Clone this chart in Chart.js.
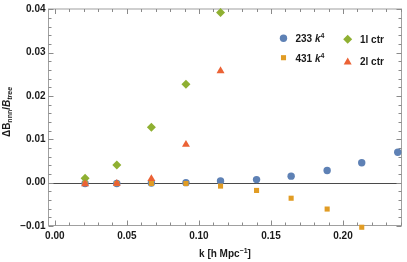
<!DOCTYPE html>
<html><head><meta charset="utf-8">
<script src="https://cdn.jsdelivr.net/npm/chart.js@4/dist/chart.umd.min.js"></script>
<style>html,body{margin:0;padding:0;background:#fff;overflow:hidden}#wrap{width:407px;height:262px;position:relative}</style>
</head><body><div id="wrap"><canvas id="c" width="407" height="262"></canvas></div>
<script>
// ---- data ----
const kValues   = [0.021, 0.043, 0.067, 0.091, 0.115, 0.140, 0.164, 0.189, 0.213, 0.238];
const c233      = [-0.0002, -0.0002, -0.0001, 0.0000, 0.0004, 0.0007, 0.0015, 0.0028, 0.0046, 0.0070];
const c431      = [-0.0002, -0.0002, -0.0002, -0.0002, -0.0008, -0.0018, -0.0036, -0.0061, -0.0103];
const ctr1      = [0.0010, 0.0041, 0.0128, 0.0227, 0.0393];
const ctr2      = [-0.0003, -0.0002, 0.0009, 0.0088, 0.0258];
const xTickVals = [0.00, 0.05, 0.10, 0.15, 0.20];
const yTickVals = [-0.01, 0.00, 0.01, 0.02, 0.03, 0.04];
const seriesNames = ['233', '431', '1l ctr', '2l ctr'];

const COLORS = {blue:'#5e81b5', orange:'#e19c24', green:'#8fb032', red:'#eb6235'};
const FONT = '"Liberation Sans", Arial, sans-serif';
const TXT = '#1a1a1a';

function pts(vals){ return vals.map((v,i)=>({x:kValues[i], y:v})); }

function drawMarker(ctx, style, x, y, r, color){
  ctx.save(); ctx.fillStyle = color; ctx.beginPath();
  if(style==='circle'){ ctx.arc(x,y,r,0,Math.PI*2); }
  else if(style==='rect'){ const s=Math.SQRT1_2*r; ctx.rect(x-s,y-s,2*s,2*s); }
  else if(style==='rectRot'){ ctx.moveTo(x,y-r); ctx.lineTo(x+r,y); ctx.lineTo(x,y+r); ctx.lineTo(x-r,y); ctx.closePath(); }
  else if(style==='triangle'){ ctx.moveTo(x, y-r); ctx.lineTo(x+r*0.866, y+r*0.5); ctx.lineTo(x-r*0.866, y+r*0.5); ctx.closePath(); }
  ctx.fill(); ctx.restore();
}

function drawRich(ctx, parts, x, y){
  let cx = x;
  for(const p of parts){
    ctx.font = p.font; ctx.fillText(p.t, cx, y + (p.dy||0));
    cx += ctx.measureText(p.t).width;
  }
}
function richWidth(ctx, parts){
  let w=0; for(const p of parts){ ctx.font=p.font; w+=ctx.measureText(p.t).width; } return w;
}

const framePlugin = {
  id:'frame',
  beforeDatasetsDraw(chart){
    const {ctx, chartArea:a, scales:{x,y}} = chart;
    ctx.save();
    ctx.lineWidth = 1;
    const y0 = Math.round(y.getPixelForValue(0)) + 0.5;
    ctx.strokeStyle = '#4a4a4a';
    ctx.beginPath(); ctx.moveTo(a.left, y0); ctx.lineTo(a.right, y0); ctx.stroke();
    ctx.strokeStyle = '#a0a0a0';
    ctx.strokeRect(a.left, a.top, a.right-a.left, a.bottom-a.top);
    ctx.strokeStyle = '#8a8a8a';
    ctx.beginPath();
    for(let i=0;i<=24;i++){
      const v=i/100, len = (i%5===0)?5:3;
      const px = Math.round(x.getPixelForValue(v))+0.5;
      if(px<a.left||px>a.right) continue;
      ctx.moveTo(px,a.bottom); ctx.lineTo(px,a.bottom-len);
      ctx.moveTo(px,a.top); ctx.lineTo(px,a.top+len);
    }
    for(let i=-5;i<=20;i++){
      const v=i*0.002, len=(i%5===0)?5:3;
      const py = Math.round(y.getPixelForValue(v))+0.5;
      if(py<a.top-1||py>a.bottom+1) continue;
      ctx.moveTo(a.left,py); ctx.lineTo(a.left+len,py);
      ctx.moveTo(a.right,py); ctx.lineTo(a.right-len,py);
    }
    ctx.stroke();
    ctx.restore();
  },
  afterDraw(chart){
    const ctx = chart.ctx;
    const a = chart.chartArea;
    ctx.save();
    ctx.fillStyle = TXT; ctx.textBaseline='alphabetic'; ctx.textAlign='left';
    // y-axis title
    const yParts = [
      {t:'\u0394B', font:'bold 10px '+FONT},
      {t:'nnn', font:'bold 7px '+FONT, dy:2.5},
      {t:'/', font:'bold 10px '+FONT},
      {t:'B', font:'italic bold 10px '+FONT},
      {t:'tree', font:'italic bold 7px '+FONT, dy:2.5}
    ];
    ctx.translate(9.5, 112); ctx.rotate(-Math.PI/2);
    const w = richWidth(ctx, yParts);
    drawRich(ctx, yParts, -w/2, 0);
    ctx.setTransform(1,0,0,1,0,0);
    // x-axis title
    const xParts = [
      {t:'k [h Mpc', font:'bold 10px '+FONT},
      {t:'\u22121', font:'bold 7px '+FONT, dy:-4},
      {t:']', font:'bold 10px '+FONT}
    ];
    const xw = richWidth(ctx, xParts);
    drawRich(ctx, xParts, (a.left+a.right)/2 - xw/2, 257);
    // legend
    const leg = [
      {style:'circle', r:3.7, color:COLORS.blue, mx:283.5, my:38.3, tx:295.5, ty:41.8,
        parts:[{t:seriesNames[0]+' ', font:'bold 10px '+FONT},{t:'k', font:'italic bold 10px '+FONT},{t:'4', font:'bold 7px '+FONT, dy:-4}]},
      {style:'rect', r:3.6, color:COLORS.orange, mx:283.5, my:57.7, tx:295.5, ty:61.5,
        parts:[{t:seriesNames[1]+' ', font:'bold 10px '+FONT},{t:'k', font:'italic bold 10px '+FONT},{t:'4', font:'bold 7px '+FONT, dy:-4}]},
      {style:'rectRot', r:4.5, color:COLORS.green, mx:347.7, my:39.3, tx:360, ty:42.8,
        parts:[{t:seriesNames[2], font:'bold 10px '+FONT}]},
      {style:'triangle', r:4.6, color:COLORS.red, mx:347.7, my:62.2, tx:360, ty:64.8,
        parts:[{t:seriesNames[3], font:'bold 10px '+FONT}]}
    ];
    for(const l of leg){
      drawMarker(ctx, l.style, l.mx, l.my, l.r, l.color);
      ctx.fillStyle = TXT;
      drawRich(ctx, l.parts, l.tx, l.ty);
    }
    ctx.restore();
  }
};

const ds = (label, data, style, r, color, order) => ({
  label, data, pointStyle:style, pointRadius:r, pointHoverRadius:r,
  backgroundColor:color, borderColor:color, pointBorderWidth:0, borderWidth:0,
  showLine:false, clip:false, order
});

new Chart(document.getElementById('c'), {
  type:'scatter',
  data:{ datasets:[
    ds('233 k4', pts(c233), 'circle', 3.7, COLORS.blue, 3),
    ds('431 k4', pts(c431), 'rect', 3.6, COLORS.orange, 2),
    ds('1l ctr', pts(ctr1), 'rectRot', 4.5, COLORS.green, 1),
    ds('2l ctr', pts(ctr2), 'triangle', 4.6, COLORS.red, 0)
  ]},
  options:{
    responsive:false, animation:false, devicePixelRatio:1,
    layout:{ padding:{top:4.5, right:5.5, left:0, bottom:0} },
    plugins:{ legend:{display:false}, tooltip:{enabled:false} },
    events:[],
    scales:{
      x:{
        type:'linear', min:-0.0044, max:0.2406,
        grid:{display:false, drawTicks:false}, border:{display:false},
        afterBuildTicks:(s)=>{ s.ticks = xTickVals.map(v=>({value:v})); },
        afterFit:(s)=>{ s.height = 36.5; },
        ticks:{ padding:5, color:TXT, font:{family:FONT, size:10, weight:'bold'},
          maxRotation:0, autoSkip:false, callback:(v)=>Number(v).toFixed(2) }
      },
      y:{
        type:'linear', min:-0.0099, max:0.0401,
        grid:{display:false, drawTicks:false}, border:{display:false},
        afterBuildTicks:(s)=>{ s.ticks = yTickVals.map(v=>({value:v})); },
        afterFit:(s)=>{ s.width = 48.5; },
        ticks:{ padding:3, color:TXT, font:{family:FONT, size:10, weight:'bold'}, autoSkip:false,
          callback:(v)=>{ const n=Number(v); return (n<0?'\u2212':'')+Math.abs(n).toFixed(2); } }
      }
    }
  },
  plugins:[framePlugin]
});
</script></body></html>
